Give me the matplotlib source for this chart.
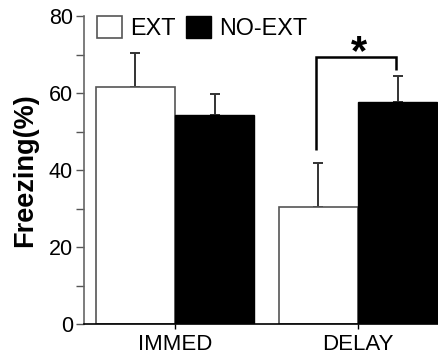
import matplotlib
matplotlib.use("Agg")
import matplotlib.pyplot as plt
from matplotlib.patches import Patch
from matplotlib.ticker import MultipleLocator
import numpy as np

plt.rcParams['font.family'] = ['Liberation Sans', 'DejaVu Sans']

categories = ["IMMED", "DELAY"]
series = ["EXT", "NO-EXT"]
ext_vals = [61.6, 30.5]
ext_err = [8.9, 11.3]
noext_vals = [54.4, 57.7]
noext_err = [5.3, 6.6]
yticks = [0, 20, 40, 60, 80]
sig_label = "*"

fig = plt.figure(figsize=(4.39, 3.58), dpi=100)
ax = fig.add_axes([84/439, 1-324/358, (438-84)/439, (324-16)/358])

x = np.arange(len(categories))
w = 0.434
ax.bar(x - w/2, ext_vals, w, color="white", edgecolor="#555555", linewidth=1.2, zorder=2)
ax.bar(x + w/2, noext_vals, w, color="black", edgecolor="black", linewidth=1.0, zorder=2)
ax.errorbar(x - w/2, ext_vals, yerr=[np.zeros(2), ext_err], fmt="none",
            ecolor="#333333", elinewidth=1.4, capsize=3.3, capthick=1.4, zorder=1)
ax.errorbar(x + w/2, noext_vals, yerr=[np.zeros(2), noext_err], fmt="none",
            ecolor="#333333", elinewidth=1.4, capsize=3.3, capthick=1.4, zorder=1)

# significance bracket on DELAY
xl = x[1] - w/2 - 0.012
xr = x[1] + w/2 - 0.012
top = 69.4
ax.plot([xl, xl, xr, xr], [ext_vals[1] + ext_err[1] + 3.4, top, top,
        noext_vals[1] + noext_err[1] + 1.7], color="black", lw=1.8,
        solid_capstyle="butt", solid_joinstyle="miter", zorder=3)
ax.text((xl + xr)/2 + 0.015, top - 1.8, sig_label, ha="center", va="baseline",
        fontsize=30, fontweight="bold")

ax.set_xlim(-0.497, 1.437)
ax.set_ylim(0, 80)
ax.set_yticks(yticks)
ax.yaxis.set_minor_locator(MultipleLocator(10))
ax.set_xticks(x)
ax.set_xticklabels(categories, fontsize=16)
ax.tick_params(axis="y", which="both", length=6, width=1.0, color="#555555",
               labelsize=15.5, pad=2)
ax.tick_params(axis="x", length=3.5, width=1.0, pad=4)
for s in ["top", "right"]:
    ax.spines[s].set_visible(False)
ax.spines["left"].set_color("#666666")
ax.spines["left"].set_linewidth(1.2)
ax.spines["bottom"].set_linewidth(1.2)
ax.set_ylabel("Freezing(%)", fontsize=19.5, fontweight="bold", labelpad=8)

handles = [Patch(facecolor="white", edgecolor="#555555", linewidth=1.2),
           Patch(facecolor="black", edgecolor="black")]
ax.legend(handles, series, loc="upper left", bbox_to_anchor=(0.037, 1.0),
          ncol=2, frameon=False, fontsize=16.8, handlelength=1.07, handleheight=1.07,
          handletextpad=0.35, columnspacing=0.45, borderaxespad=0.0, borderpad=0.0)

fig.savefig("out.png", dpi=100)
